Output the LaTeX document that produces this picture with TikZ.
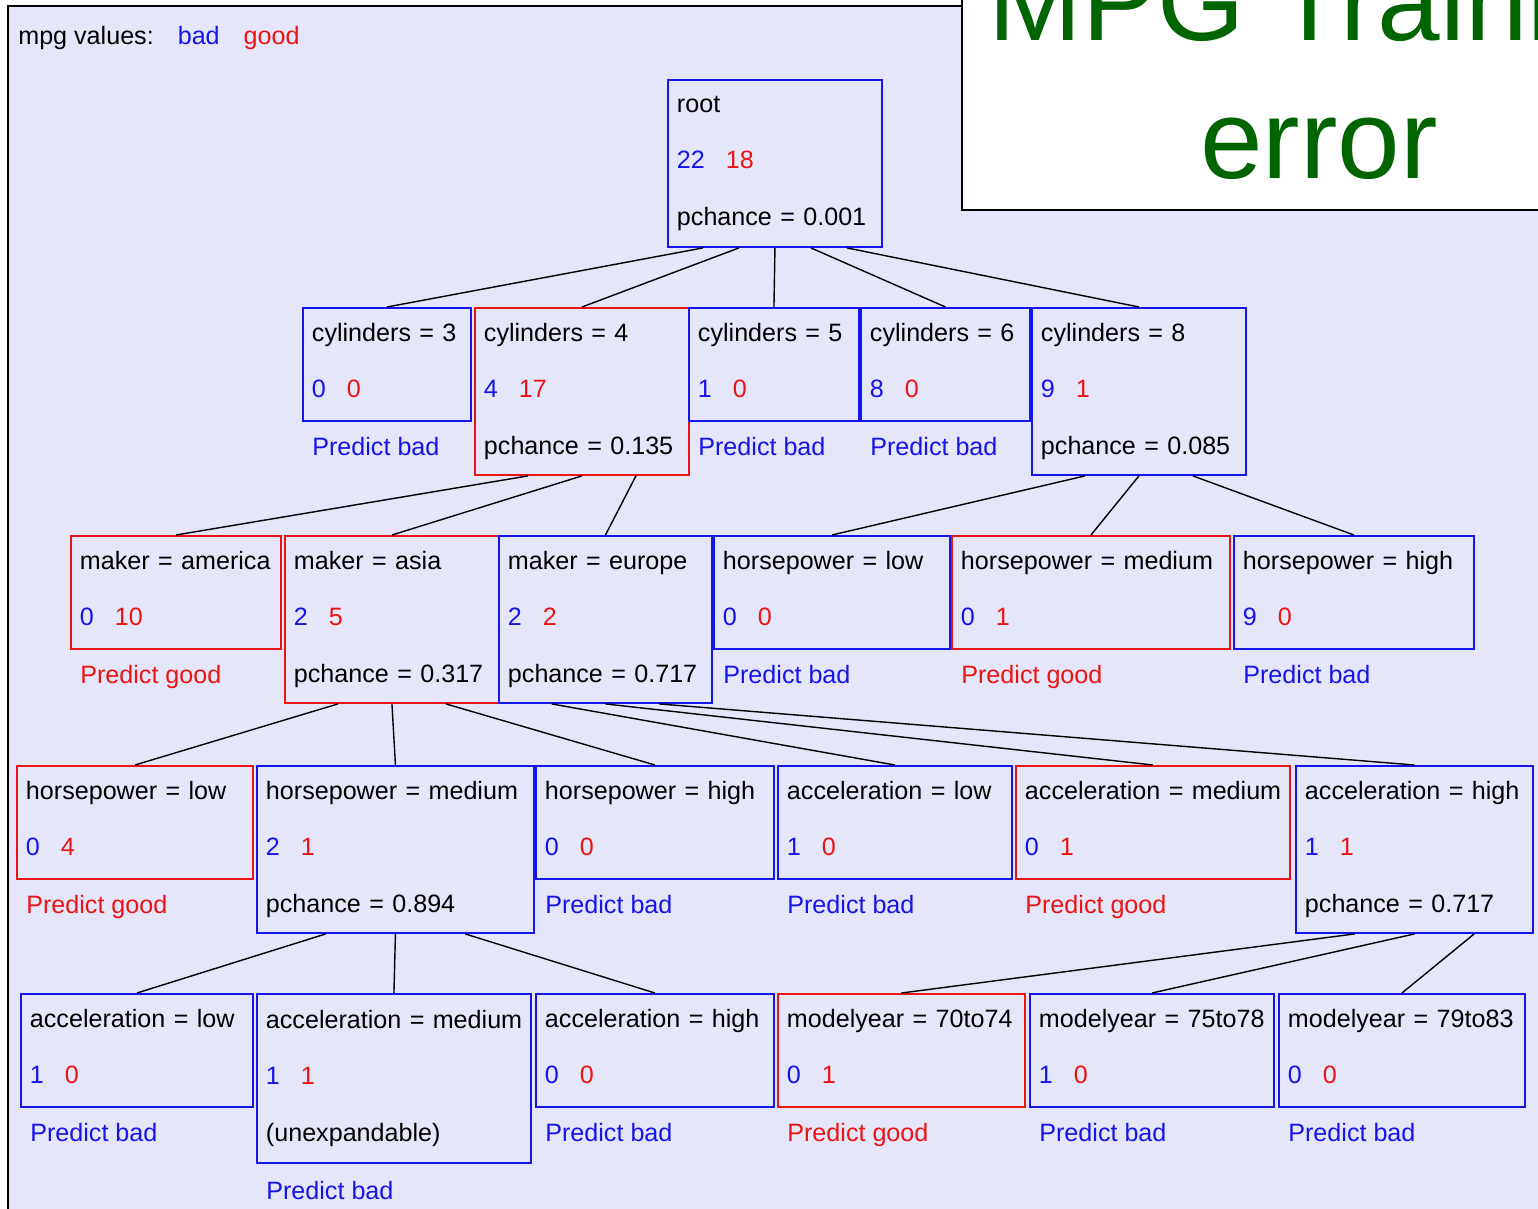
\documentclass[tikz,border=0pt]{standalone}
\usepackage{fontspec}
\setmainfont{Liberation Sans}
\usetikzlibrary{calc}

\definecolor{mpgbad}{RGB}{20,20,235}
\definecolor{mpggood}{RGB}{235,20,20}
\definecolor{panel}{RGB}{230,230,250}
\definecolor{titlegreen}{RGB}{0,100,0}

\newcommand{\mpgcount}[2]{\textcolor{mpgbad}{#1}\hspace{0.42cm}\textcolor{mpggood}{#2}\rule[-4.5pt]{0pt}{4.5pt}}

\tikzset{
  splitbox/.style={draw=mpgbad, line width=1.1pt, anchor=north west, align=left,
    inner xsep=0.18cm, inner ysep=0pt, minimum height=2.26cm,
    font=\fontsize{14.3}{31.9}\selectfont},
  tall/.style={minimum height=3.34cm},
  goodbox/.style={draw=mpggood},
  pred/.style={anchor=base west, inner sep=0pt, font=\fontsize{14.3}{17}\selectfont},
  edge/.style={line width=0.8pt},
}

\begin{document}
\begin{tikzpicture}[x=0.02cm,y=-0.02cm]
  \useasboundingbox (0,0) rectangle (1538,1208);
  \clip (0,0) rectangle (1538,1208);
  \fill[white] (0,0) rectangle (1538,1208);
  \draw[fill=panel,line width=1pt] (8,6) rectangle (1600,1260);

  % title card
  \draw[fill=white,line width=1.1pt] (962,-20) rectangle (1600,210);
  \node[anchor=base west,inner sep=0pt,text=titlegreen,font=\fontsize{64}{70}\selectfont] (title) at (988,40) {MPG Training};
  \node[anchor=base west,inner sep=0pt,text=titlegreen,font=\fontsize{64}{70}\selectfont] (title2) at (1200,178) {error};

  % legend
  \node[pred] (legend) at (18,44) {mpg values:\hspace{0.48cm}\textcolor{mpgbad}{bad}\hspace{0.48cm}\textcolor{mpggood}{good}};

  % root
  \node[splitbox,tall,text width=3.92cm] (root) at (667,79) {root\\\mpgcount{22}{18}\\pchance = 0.001};

  % cylinders
  \node[splitbox,text width=3.00cm] (cyl3) at (302,307) {cylinders = 3\\\mpgcount{0}{0}};
  \node[splitbox,goodbox,tall,text width=3.92cm] (cyl4) at (474,307) {cylinders = 4\\\mpgcount{4}{17}\\pchance = 0.135};
  \node[splitbox,text width=3.04cm] (cyl5) at (688,307) {cylinders = 5\\\mpgcount{1}{0}};
  \node[splitbox,text width=3.02cm] (cyl6) at (860,307) {cylinders = 6\\\mpgcount{8}{0}};
  \node[splitbox,tall,text width=3.92cm] (cyl8) at (1031,307) {cylinders = 8\\\mpgcount{9}{1}\\pchance = 0.085};

  % maker / horsepower under cylinders
  \node[splitbox,goodbox,text width=3.84cm] (mkam) at (70,535) {maker = america\\\mpgcount{0}{10}};
  \node[splitbox,goodbox,tall,text width=3.92cm] (mkas) at (284,535) {maker = asia\\\mpgcount{2}{5}\\pchance = 0.317};
  \node[splitbox,tall,text width=3.90cm] (mkeu) at (498,535) {maker = europe\\\mpgcount{2}{2}\\pchance = 0.717};
  \node[splitbox,text width=4.36cm] (hplo-c8) at (713,535) {horsepower = low\\\mpgcount{0}{0}};
  \node[splitbox,goodbox,text width=5.20cm] (hpmed-c8) at (951,535) {horsepower = medium\\\mpgcount{0}{1}};
  \node[splitbox,text width=4.44cm] (hphi-c8) at (1233,535) {horsepower = high\\\mpgcount{9}{0}};

  % third level
  \node[splitbox,goodbox,text width=4.36cm] (hplo-as) at (16,765) {horsepower = low\\\mpgcount{0}{4}};
  \node[splitbox,tall,text width=5.18cm] (hpmed-as) at (256,765) {horsepower = medium\\\mpgcount{2}{1}\\pchance = 0.894};
  \node[splitbox,text width=4.40cm] (hphi-as) at (535,765) {horsepower = high\\\mpgcount{0}{0}};
  \node[splitbox,text width=4.32cm] (aclo-eu) at (777,765) {acceleration = low\\\mpgcount{1}{0}};
  \node[splitbox,goodbox,text width=5.12cm] (acmed-eu) at (1015,765) {\mbox{acceleration = medium}\\\mpgcount{0}{1}};
  \node[splitbox,tall,text width=4.38cm] (achi-eu) at (1295,765) {acceleration = high\\\mpgcount{1}{1}\\pchance = 0.717};

  % fourth level
  \node[splitbox,text width=4.28cm] (aclo-hp) at (20,993) {acceleration = low\\\mpgcount{1}{0}};
  \node[splitbox,minimum height=3.38cm,text width=5.12cm] (acmed-hp) at (256,993) {\mbox{acceleration = medium}\\\mpgcount{1}{1}\\(unexpandable)};
  \node[splitbox,text width=4.40cm] (achi-hp) at (535,993) {acceleration = high\\\mpgcount{0}{0}};
  \node[splitbox,goodbox,text width=4.58cm] (my70) at (777,993) {modelyear = 70to74\\\mpgcount{0}{1}};
  \node[splitbox,text width=4.52cm] (my75) at (1029,993) {modelyear = 75to78\\\mpgcount{1}{0}};
  \node[splitbox,text width=4.56cm] (my79) at (1278,993) {modelyear = 79to83\\\mpgcount{0}{0}};

  % predictions
  \node[pred,text=mpgbad] (pr-cyl3) at ([shift={(10,34)}]cyl3.south west) {Predict bad};
  \node[pred,text=mpgbad] (pr-cyl5) at ([shift={(10,34)}]cyl5.south west) {Predict bad};
  \node[pred,text=mpgbad] (pr-cyl6) at ([shift={(10,34)}]cyl6.south west) {Predict bad};
  \node[pred,text=mpggood] (pr-mkam) at ([shift={(10,34)}]mkam.south west) {Predict good};
  \node[pred,text=mpgbad] (pr-hplo-c8) at ([shift={(10,34)}]hplo-c8.south west) {Predict bad};
  \node[pred,text=mpggood] (pr-hpmed-c8) at ([shift={(10,34)}]hpmed-c8.south west) {Predict good};
  \node[pred,text=mpgbad] (pr-hphi-c8) at ([shift={(10,34)}]hphi-c8.south west) {Predict bad};
  \node[pred,text=mpggood] (pr-hplo-as) at ([shift={(10,34)}]hplo-as.south west) {Predict good};
  \node[pred,text=mpgbad] (pr-hphi-as) at ([shift={(10,34)}]hphi-as.south west) {Predict bad};
  \node[pred,text=mpgbad] (pr-aclo-eu) at ([shift={(10,34)}]aclo-eu.south west) {Predict bad};
  \node[pred,text=mpggood] (pr-acmed-eu) at ([shift={(10,34)}]acmed-eu.south west) {Predict good};
  \node[pred,text=mpgbad] (pr-aclo-hp) at ([shift={(10,34)}]aclo-hp.south west) {Predict bad};
  \node[pred,text=mpgbad] (pr-acmed-hp) at ([shift={(10,36)}]acmed-hp.south west) {Predict bad};
  \node[pred,text=mpgbad] (pr-achi-hp) at ([shift={(10,34)}]achi-hp.south west) {Predict bad};
  \node[pred,text=mpggood] (pr-my70) at ([shift={(10,34)}]my70.south west) {Predict good};
  \node[pred,text=mpgbad] (pr-my75) at ([shift={(10,34)}]my75.south west) {Predict bad};
  \node[pred,text=mpgbad] (pr-my79) at ([shift={(10,34)}]my79.south west) {Predict bad};

  % branches
  \foreach \kid [count=\i] in {cyl3,cyl4,cyl5,cyl6,cyl8}
    \draw[edge] ($(root.south west)!\i/6!(root.south east)$) -- (\kid.north);
  \foreach \kid [count=\i] in {mkam,mkas,mkeu}
    \draw[edge] ($(cyl4.south west)!\i/4!(cyl4.south east)$) -- (\kid.north);
  \foreach \kid [count=\i] in {hplo-c8,hpmed-c8,hphi-c8}
    \draw[edge] ($(cyl8.south west)!\i/4!(cyl8.south east)$) -- (\kid.north);
  \foreach \kid [count=\i] in {hplo-as,hpmed-as,hphi-as}
    \draw[edge] ($(mkas.south west)!\i/4!(mkas.south east)$) -- (\kid.north);
  \foreach \kid [count=\i] in {aclo-eu,acmed-eu,achi-eu}
    \draw[edge] ($(mkeu.south west)!\i/4!(mkeu.south east)$) -- (\kid.north);
  \foreach \kid [count=\i] in {aclo-hp,acmed-hp,achi-hp}
    \draw[edge] ($(hpmed-as.south west)!\i/4!(hpmed-as.south east)$) -- (\kid.north);
  \foreach \kid [count=\i] in {my70,my75,my79}
    \draw[edge] ($(achi-eu.south west)!\i/4!(achi-eu.south east)$) -- (\kid.north);
\end{tikzpicture}
\end{document}
